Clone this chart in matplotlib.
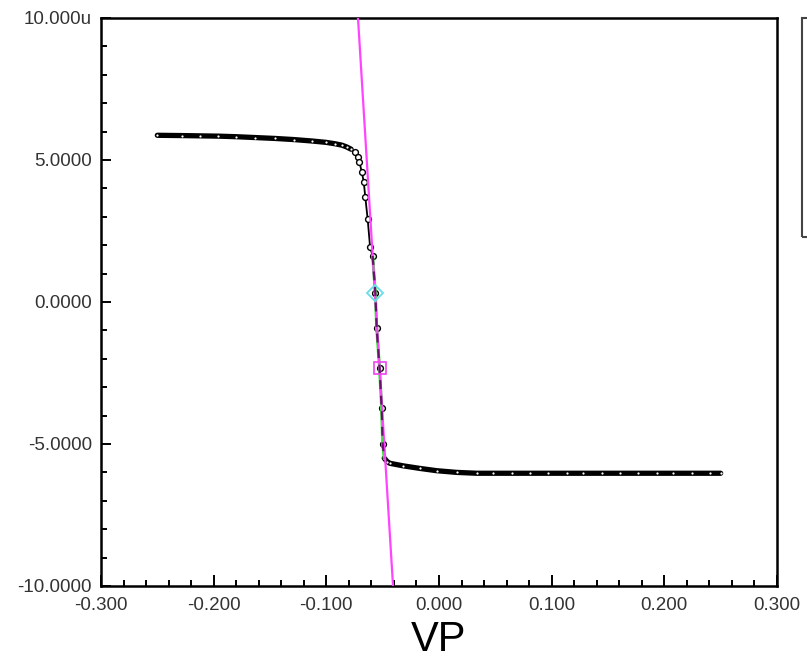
import numpy as np
import matplotlib
matplotlib.use("Agg")
from matplotlib import pyplot as plt
from matplotlib.patches import Rectangle
from matplotlib.ticker import MultipleLocator, FuncFormatter

plt.rcParams['font.family'] = ['Liberation Sans', 'DejaVu Sans']
plt.rcParams['axes.unicode_minus'] = False

# sweep (VP in volts, current in u)
vp = np.array([
    -0.250, -0.228, -0.212, -0.196, -0.180, -0.163, -0.146, -0.129, -0.113,
    -0.100, -0.092, -0.086, -0.082, -0.078, -0.0745, -0.072,
    -0.0707, -0.0686, -0.0668, -0.0654, -0.0633, -0.0612, -0.0589,
    -0.0565, -0.0553, -0.0528, -0.0509, -0.0500, -0.0486,
    -0.0460, -0.0435, -0.0317, -0.0169, -0.0021, 0.0157, 0.0335,
    0.0482, 0.0645, 0.0808, 0.0970, 0.1133, 0.1281, 0.1444, 0.1607,
    0.1770, 0.1933, 0.2081, 0.2244, 0.2406, 0.2500])
cur = np.array([
    5.87, 5.86, 5.85, 5.84, 5.82, 5.79, 5.76, 5.72, 5.67,
    5.62, 5.57, 5.52, 5.46, 5.38, 5.27, 5.10,
    4.94, 4.59, 4.23, 3.69, 2.91, 1.95, 1.62,
    0.33, -0.93, -2.31, -3.74, -5.00, -5.50,
    -5.62, -5.68, -5.77, -5.86, -5.94, -6.00, -6.03,
    -6.03, -6.03, -6.03, -6.03, -6.03, -6.03, -6.03, -6.03,
    -6.03, -6.03, -6.03, -6.03, -6.03, -6.03])

# tangent through the marked point (square) and the zero-crossing marker (diamond)
tan_x = [-0.0719, -0.0408]
tan_y = [10.0, -10.0]
square_pt = (-0.0528, -2.31)
diamond_pt = (-0.0565, 0.33)
fit_lo, fit_hi = -0.0595, -0.0485

fig = plt.figure(figsize=(8.07, 6.67), dpi=100)
ax = fig.add_axes([101/807, 81/667, 676/807, 568/667])

band = np.abs(cur) > 5.3
fit = (vp >= fit_lo) & (vp <= fit_hi)

# thin black trace through everything, thick band on the flat parts
ax.plot(vp, cur, color='black', lw=1.3, zorder=3)
ax.plot(vp, np.where(band, cur, np.nan), color='black', lw=3.8,
        solid_capstyle='round', zorder=3)
ax.plot(vp[~band], cur[~band], 'o', ms=4.2, mfc='white', mec='black',
        mew=1.0, zorder=4)
ax.plot(vp[band], cur[band], 'o', ms=1.6, mfc='white', mec='none', zorder=4)

# fitted region
ax.plot(vp[fit], cur[fit], color='#33ee33', lw=2.2, zorder=5)
ax.plot(tan_x, tan_y, color='#ff44ff', lw=1.6, zorder=6)
ax.plot(vp[fit], cur[fit], color='#6a1070', lw=1.6, dashes=(4, 3), zorder=7)

ax.plot(*diamond_pt, 'D', ms=8, mfc='none', mec='#66dde8', mew=1.3, zorder=8)
ax.plot(*square_pt, 's', ms=9, mfc='none', mec='#ee44ee', mew=1.2, zorder=8)

ax.set_xlim(-0.3, 0.3)
ax.set_ylim(-10, 10)
ax.xaxis.set_major_locator(MultipleLocator(0.1))
ax.xaxis.set_minor_locator(MultipleLocator(0.02))
ax.yaxis.set_major_locator(MultipleLocator(5))
ax.yaxis.set_minor_locator(MultipleLocator(1))

ax.xaxis.set_major_formatter(FuncFormatter(lambda v, p: "%.3f" % (0.0 if abs(v) < 1e-9 else v)))

def ylab(v, p):
    if abs(v - 10) < 1e-9:
        return "10.000u"
    return "%.4f" % (0.0 if abs(v) < 1e-9 else v)

ax.yaxis.set_major_formatter(FuncFormatter(ylab))

ax.tick_params(which='both', direction='in', top=False, right=False,
               labelsize=13.5, labelcolor='#333333', width=1.4)
ax.tick_params(axis='x', which='major', length=8, pad=8)
ax.tick_params(axis='x', which='minor', length=4)
ax.tick_params(axis='y', which='major', length=7.5, pad=6.5)
ax.tick_params(axis='y', which='minor', length=4.5)

for s in ax.spines.values():
    s.set_linewidth(1.8)
    s.set_color('black')

ax.set_xlabel("VP", fontsize=30, labelpad=4)

# legend frame peeking in at the right edge
fig.patches.append(Rectangle((802/807, (667-237)/667), 0.05, 219/667,
                             transform=fig.transFigure, fill=False,
                             edgecolor='#444444', lw=1.5))

fig.savefig("out.png", dpi=100)
